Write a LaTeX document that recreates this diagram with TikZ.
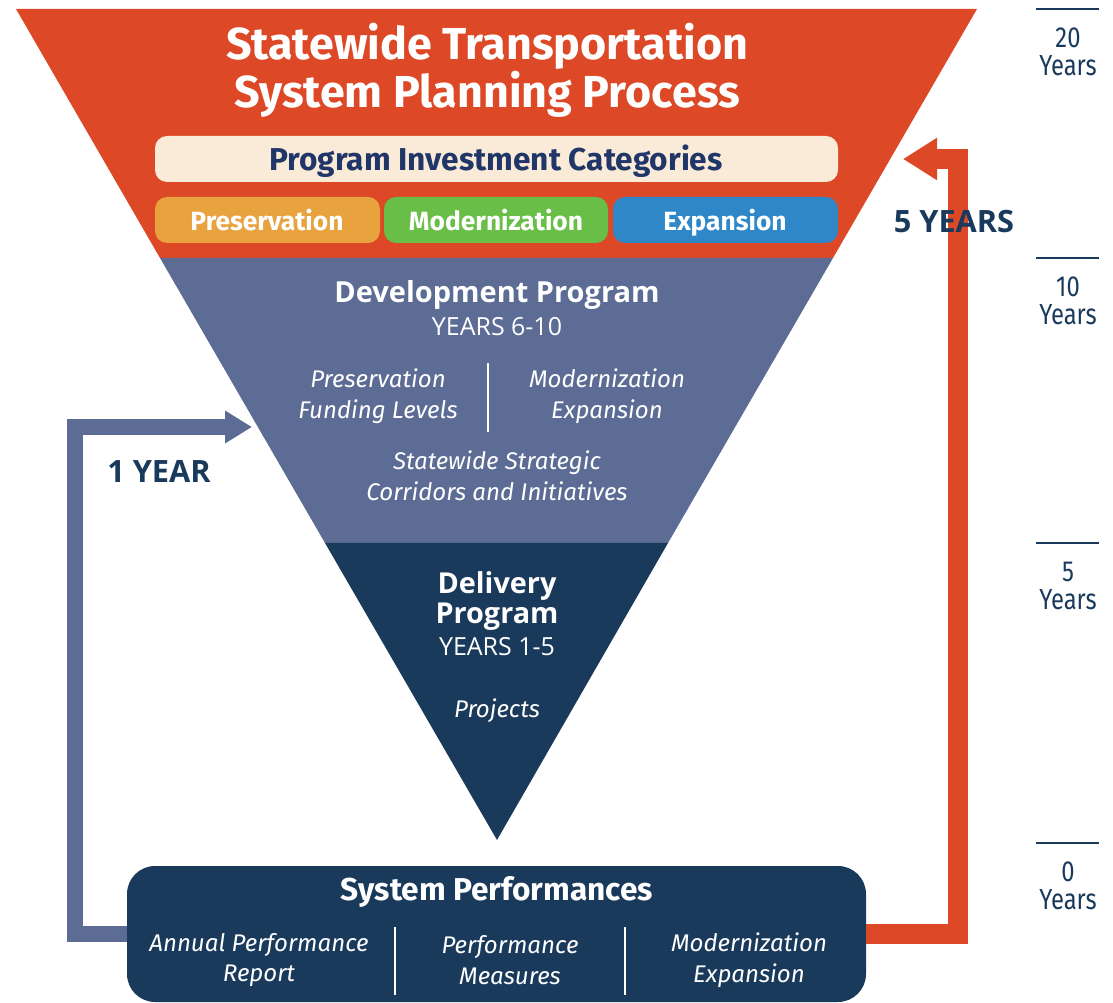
\documentclass[tikz,border=0pt]{standalone}
\usepackage{fontspec}
\usepackage{xcolor}
\usetikzlibrary{arrows.meta}
\setmainfont{Open Sans}
\newfontfamily\ubu{Fira Sans}
\newfontfamily\axisfont[FakeStretch=0.82]{Fira Sans}

\definecolor{redorange}{HTML}{DD4827}
\definecolor{slate}{HTML}{5C6C94}
\definecolor{navy}{HTML}{1A3A5C}
\definecolor{beige}{HTML}{FAEBD8}
\definecolor{presorange}{HTML}{E8A23E}
\definecolor{modgreen}{HTML}{68BE46}
\definecolor{expblue}{HTML}{2F87C8}
\definecolor{pictext}{HTML}{213668}

\tikzset{
  catbox/.style={rounded corners=12*0.02cm, text=white, text height=10.5pt, text depth=0pt, font=\ubu\bfseries\fontsize{15}{17}\selectfont},
  itext/.style={text=white, align=center, font=\ubu\itshape\fontsize{13.7}{17.5}\selectfont},
  axislabel/.style={text=navy, align=center, font=\axisfont\fontsize{16.5}{15.9}\selectfont},
  yearlabel/.style={text=navy, font=\bfseries\fontsize{17.5}{19}\selectfont}
}

\begin{document}
\begin{tikzpicture}[x=0.02cm, y=-0.02cm, line join=miter]
\useasboundingbox (0,0) rectangle (1113,1003);

% the funnel
\fill[redorange] (16,9) -- (977,9) -- (833,258) -- (160,258) -- cycle;
\fill[slate] (160,258) -- (833,258) -- (668,543) -- (325,543) -- cycle;
\fill[navy] (325,543) -- (668,543) -- (497,840) -- cycle;

\node[white, align=center, font=\ubu\bfseries\fontsize{25.5}{24}\selectfont] (title) at (487,70)
  {Statewide Transportation\\System Planning Process};

% investment categories
\fill[beige, rounded corners=12*0.02cm] (155,136) rectangle (838,182);
\node[text=pictext, font=\ubu\bfseries\fontsize{18}{20}\selectfont] (pic) at (496,161) {Program Investment Categories};
\fill[presorange, catbox] (155,197) rectangle (380,243);
\fill[modgreen, catbox] (384,197) rectangle (608,243);
\fill[expblue, catbox] (613,197) rectangle (838,243);
\node[catbox] (pres) at (267,221) {Preservation};
\node[catbox] (mod) at (496,221) {Modernization};
\node[catbox] (exp) at (725,221) {Expansion};

% development program
\node[white, font=\bfseries\fontsize{16.5}{18}\selectfont] (devprog) at (497,295) {Development Program};
\node[white, font=\fontsize{14.2}{16}\selectfont] (devyears) at (497,327) {YEARS 6-10};
\node[itext] (devleft) at (378,396) {Preservation\\Funding Levels};
\node[itext] (devright) at (607,396) {Modernization\\Expansion};
\draw[white, line width=0.6pt] (488,363) -- (488,432);
\node[itext] (devbottom) at (497,476) {Statewide Strategic\\Corridors and Initiatives};

% delivery program
\node[white, align=center, font=\bfseries\fontsize{16.4}{17}\selectfont] (delprog) at (497,601) {Delivery\\Program};
\node[white, font=\fontsize{14.2}{16}\selectfont] (delyears) at (497,647) {YEARS 1-5};
\node[itext] (projects) at (497,711) {Projects};

% system performances
\node[fill=navy, rounded corners=28*0.02cm, minimum width=739*0.02cm, minimum height=136*0.02cm] (sysperf) at (496.5,934) {};
\node[white, font=\ubu\bfseries\fontsize{18}{20}\selectfont] (systitle) at (497,892) {System Performances};
\node[itext] (annual) at (259,960) {Annual Performance\\Report};
\node[itext] (measures) at (510,960) {Performance\\Measures};
\node[itext] (modexp) at (749,960) {Modernization\\Expansion};
\draw[white, line width=0.6pt] (395,927) -- (395,995);
\draw[white, line width=0.6pt] (625,927) -- (625,995);

% feedback arrows
\coordinate (fivetip) at (903,159);
\coordinate (onetip) at (252,427);
\draw[redorange, line width=20*0.02cm, -{Triangle[length=34*0.02cm, width=40*0.02cm]}]
  (sysperf.east) -| (958,159) -- (fivetip);
\draw[slate, line width=16*0.02cm, -{Triangle[length=27*0.02cm, width=31*0.02cm]}]
  (sysperf.west) -| (75,427) -- (onetip);
\node[yearlabel] (fiveyears) at (954,222) {5 YEARS};
\node[yearlabel] (oneyear) at (159,471) {1 YEAR};

% time axis
\foreach \ypos/\yrs in {9/20, 258/10, 543/5, 843/0} {
  \draw[navy, line width=2.5*0.02cm] (1036,\ypos) -- (1099,\ypos);
  \node[axislabel] at (1068,\ypos+43) {\yrs\\Years};
}
\end{tikzpicture}
\end{document}
